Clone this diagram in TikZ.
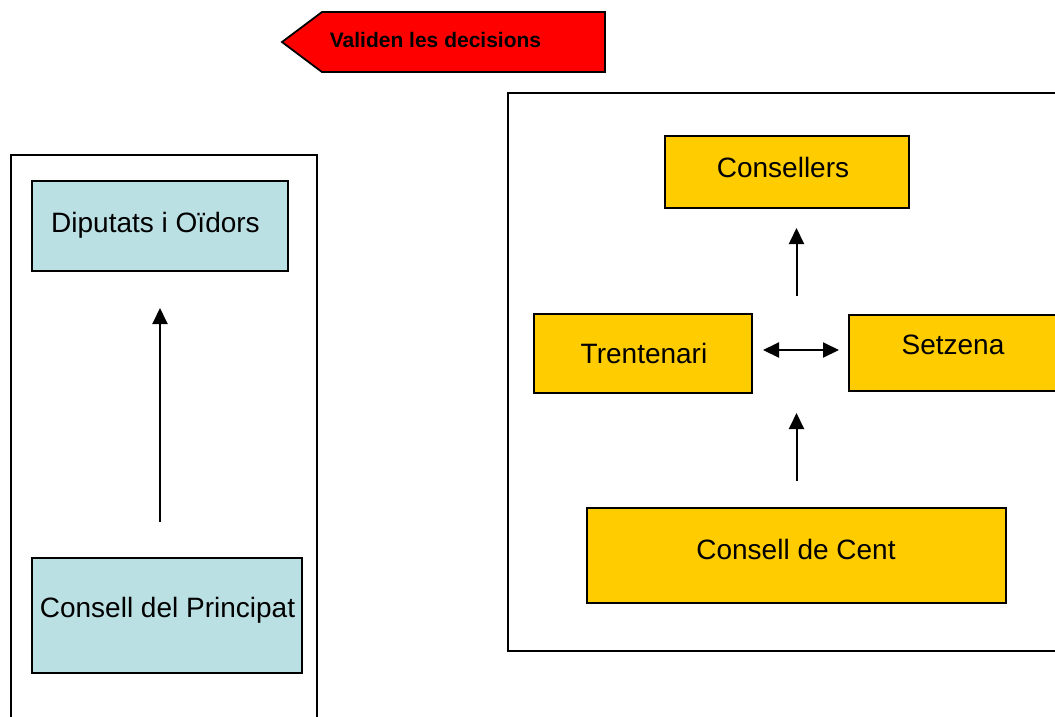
\documentclass[tikz,border=0pt]{standalone}
\usepackage{fontspec}
\setmainfont{Liberation Sans}
\usetikzlibrary{arrows.meta,calc}
\definecolor{lblue}{HTML}{BBE0E3}
\definecolor{gold}{HTML}{FFCC00}
\tikzset{
  frame/.style={draw=black,line width=1.8pt,fill=none},
  bluebox/.style={draw=black,line width=2pt,fill=lblue,inner sep=0pt},
  goldbox/.style={draw=black,line width=2pt,fill=gold,inner sep=0pt},
  lbl/.style={anchor=base,inner sep=0pt,font=\fontsize{28}{33}\selectfont},
  conn/.style={line width=2pt,-{Triangle[length=16pt,width=15pt]}},
  bconn/.style={line width=2pt,{Triangle[length=16pt,width=15pt]}-{Triangle[length=16pt,width=15pt]}}
}
\begin{document}
\begin{tikzpicture}[x=1pt,y=-1pt]
\clip (0,0) rectangle (1055,716);
\fill[white] (0,0) rectangle (1055,716);
% red pointer
\draw[line width=1.8pt,fill=red] (282,42) -- (322,12) -- (605,12) -- (605,72) -- (322,72) -- cycle;
\node[anchor=base,inner sep=0pt,font=\fontsize{21}{25}\selectfont\bfseries] (val) at (435.5,47) {Validen les decisions};
% left frame
\node[frame,minimum width=306pt,minimum height=600pt,anchor=north west,inner sep=0pt] (lframe) at (10,154) {};
\node[bluebox,minimum width=256pt,minimum height=90pt] (dio) at (160,226) {};
\node[lbl] (diot) at (155.5,232) {Diputats i Oïdors};
\node[bluebox,minimum width=270pt,minimum height=115pt] (cdp) at (167,615.5) {};
\node[lbl] (cdpt) at (167.5,617) {Consell del Principat};
\draw[conn,shorten <=35pt,shorten >=36pt] (dio.south |- cdp.north) -- (dio.south);
% right frame
\node[frame,minimum width=600pt,minimum height=558pt,anchor=north west,inner sep=0pt] (rframe) at (507,92) {};
\node[goldbox,minimum width=244pt,minimum height=72pt] (cons) at (787,172) {};
\node[lbl] (const) at (783,177) {Consellers};
\node[goldbox,minimum width=218pt,minimum height=79pt] (trent) at (643,353.5) {};
\node[lbl] (trentt) at (644,363) {Trentenari};
\node[goldbox,minimum width=240pt,minimum height=76pt,anchor=north west] (setz) at (848,314) {};
\node[lbl] (setzt) at (953,354) {Setzena};
\node[goldbox,minimum width=419pt,minimum height=95pt] (cdc) at (796.5,555.5) {};
\node[lbl] (cdct) at (796,559) {Consell de Cent};
% connectors
\draw[conn,shorten <=17pt,shorten >=19pt] (trent.north -| cdc.north) -- (cons.south -| cdc.north);
\draw[conn,shorten <=26pt,shorten >=19pt] (cdc.north) -- (trent.south -| cdc.north);
\draw[bconn,shorten <=10pt,shorten >=9pt] (trent.east |- 0,350) -- (setz.west |- 0,350);
\end{tikzpicture}
\end{document}
